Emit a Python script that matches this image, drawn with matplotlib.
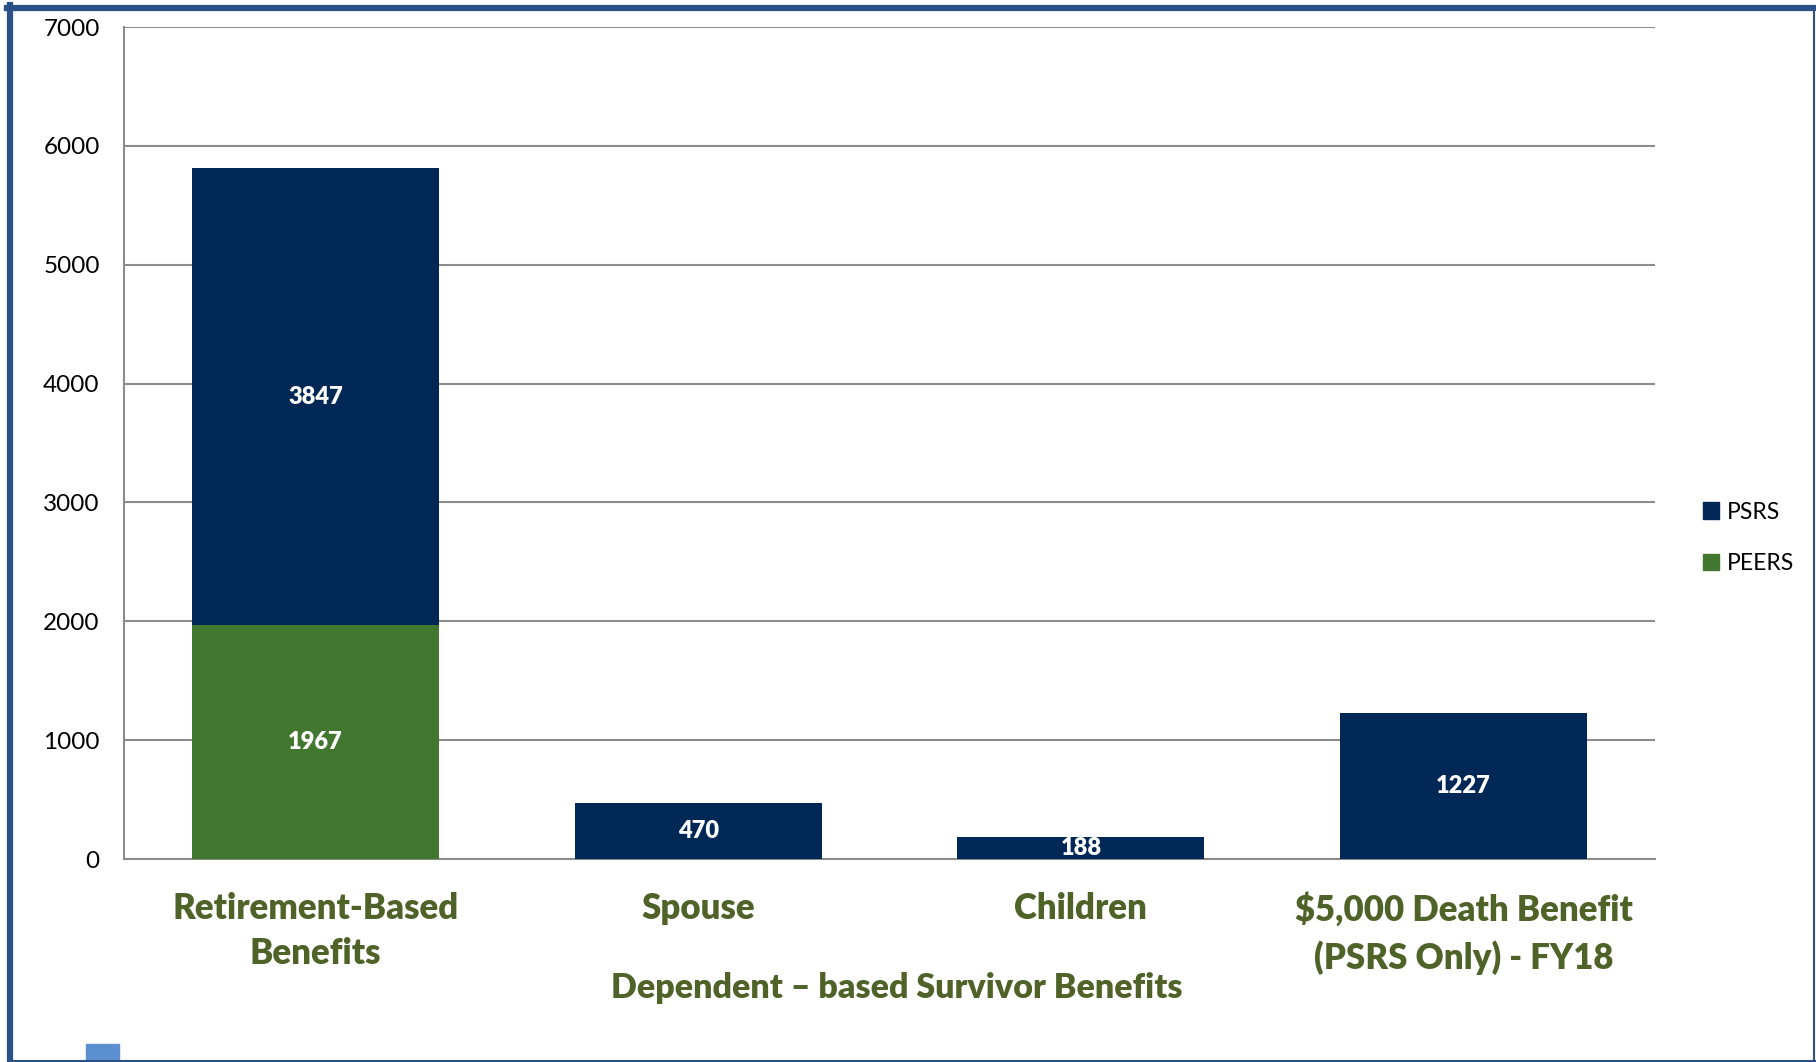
import matplotlib
matplotlib.use('Agg')
import numpy as np
import matplotlib.pyplot as plt
from matplotlib.patches import Patch, Rectangle
from matplotlib.lines import Line2D

# chart data
categories = ['Retirement-Based\nBenefits', 'Spouse', 'Children',
              '$5,000 Death Benefit\n(PSRS Only) - FY18']
peers = [1967, 0, 0, 0]
psrs = [3847, 470, 188, 1227]
y_ticks = [0, 1000, 2000, 3000, 4000, 5000, 6000, 7000]
group_label = 'Dependent \u2013 based Survivor Benefits'

navy = '#002856'
green = '#41772f'
olive = '#4f6228'
frame_blue = '#2b5086'

plt.rcParams['font.family'] = ['Lato', 'DejaVu Sans']

fig = plt.figure(figsize=(18.16, 10.62), dpi=100)
ax = fig.add_axes([124 / 1816, 1 - 859 / 1062, (1655 - 124) / 1816, (859 - 27) / 1062])

x = np.arange(len(categories))
width = 0.645
peers = np.array(peers)
psrs = np.array(psrs)

ax.bar(x, peers, width, color=green, zorder=3)
ax.bar(x, psrs, width, bottom=peers, color=navy, zorder=3)

# value labels inside the segments
for i in range(len(x)):
    if peers[i] > 0:
        ax.text(x[i], peers[i] / 2, str(peers[i]), ha='center', va='center',
                color='white', fontsize=17, fontweight='heavy', zorder=4)
    ax.text(x[i], peers[i] + psrs[i] / 2, str(psrs[i]), ha='center', va='center',
            color='white', fontsize=17, fontweight='heavy', zorder=4)

ax.set_xlim(-0.5, len(categories) - 0.5)
ax.set_ylim(0, 7000)
ax.set_yticks(y_ticks)
ax.set_yticklabels([str(v) for v in y_ticks], fontsize=17.5, color='black')
ax.set_xticks(x)
ax.set_xticklabels(categories, fontsize=25, fontweight='heavy', color=olive,
                   linespacing=1.45)
ax.tick_params(axis='both', length=0)
ax.tick_params(axis='y', pad=17.5)
ax.tick_params(axis='x', pad=24)

ax.yaxis.grid(True, color='#8c8c8c', linewidth=1.5, zorder=0)
ax.set_axisbelow(True)
for side in ['top', 'right']:
    ax.spines[side].set_visible(False)
ax.spines['left'].set_color('#8c8c8c')
ax.spines['left'].set_linewidth(1.5)
ax.spines['bottom'].set_color('#8c8c8c')
ax.spines['bottom'].set_linewidth(1.5)

# group label under Spouse / Children
ax.text(1.52, -0.155, group_label, transform=ax.get_xaxis_transform(),
        ha='center', va='center', fontsize=24.5, fontweight='heavy', color=olive)

handles = [Patch(color=navy, label='PSRS'), Patch(color=green, label='PEERS')]
fig.legend(handles=handles, loc='center left', bbox_to_anchor=(1682 / 1816, 1 - 538 / 1062),
           frameon=False, fontsize=16.5, handlelength=0.7, handleheight=0.7,
           handletextpad=0.35, labelspacing=1.35)

# outer frame
fig.add_artist(Line2D([10 / 1816, 10 / 1816], [0, 1 - 5 / 1062], color=frame_blue, lw=4.5))
fig.add_artist(Line2D([7 / 1816, 1], [1 - 8 / 1062, 1 - 8 / 1062], color=frame_blue, lw=4.5))
fig.add_artist(Line2D([1814 / 1816, 1814 / 1816], [0, 1 - 8 / 1062], color=frame_blue, lw=1.5))
fig.add_artist(Line2D([10 / 1816, 1], [1 / 1062, 1 / 1062], color=frame_blue, lw=1.5))

# small blue square at bottom left
fig.add_artist(Rectangle((86 / 1816, 0), 33 / 1816, 18 / 1062, transform=fig.transFigure,
                         color='#5b8fd0'))

fig.savefig('out.png', dpi=100)
